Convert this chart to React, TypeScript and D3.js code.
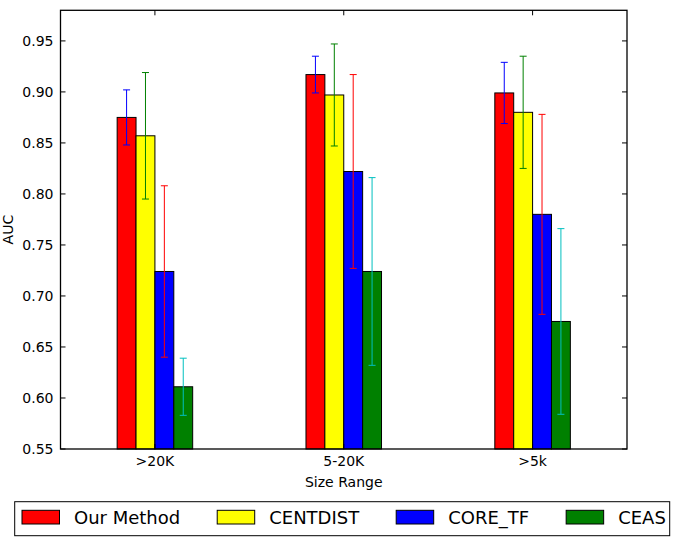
import React from "react";
import * as d3 from "d3";

const categories = [">20K", "5-20K", ">5k"];
const seriesNames = ["Our Method", "CENTDIST", "CORE_TF", "CEAS"];
const ourMethod = [0.875, 0.917, 0.899];
const centdist = [0.857, 0.897, 0.880];
const coreTf = [0.724, 0.822, 0.780];
const ceas = [0.611, 0.724, 0.675];
const ourMethodErr = [0.027, 0.018, 0.030];
const centdistErr = [0.062, 0.050, 0.055];
const coreTfErr = [0.084, 0.095, 0.098];
const ceasErr = [0.028, 0.092, 0.091];
const yTicks = [0.55, 0.6, 0.65, 0.7, 0.75, 0.8, 0.85, 0.9, 0.95];

const seriesValues = [ourMethod, centdist, coreTf, ceas];
const seriesErrs = [ourMethodErr, centdistErr, coreTfErr, ceasErr];
const fills = ["#ff0000", "#ffff00", "#0000ff", "#008000"];
const errColors = ["#0000ff", "#008000", "#ff0000", "#00bfbf"];

const W = 675;
const H = 537;
const left = 60.5;
const right = 627;
const top = 10.3;
const bottom = 449;
const FONT = "DejaVu Sans, sans-serif";

function measure(text: string, size: number): number {
  if (typeof document === "undefined") return text.length * size * 0.6;
  const c = document.createElement("canvas");
  const ctx = c.getContext("2d");
  if (!ctx) return text.length * size * 0.6;
  ctx.font = `${size}px DejaVu Sans`;
  return ctx.measureText(text).width;
}

export default function App() {
  const x = d3.scaleLinear().domain([-0.5, 2.5]).range([left, right]);
  const y = d3.scaleLinear().domain([0.55, 0.98]).range([bottom, top]);
  const barW = 0.1;
  const offsets = [-0.2, -0.1, 0, 0.1];
  const tickLen = 5;

  // legend layout
  const legendItems: { name: string; px: number; tx: number }[] = [];
  let cx = 22;
  seriesNames.forEach((n) => {
    legendItems.push({ name: n, px: cx, tx: cx + 52 });
    cx = cx + 52 + measure(n, 18) + 37;
  });

  return (
    <svg
      width={W}
      height={H}
      style={{ position: "absolute", left: 0, top: 0, background: "#fff" }}
      fontFamily={FONT}
    >
      <rect x={0} y={0} width={W} height={H} fill="#fff" />
      {/* bars */}
      {seriesValues.map((vals, s) =>
        vals.map((v, i) => (
          <rect
            key={`b${s}-${i}`}
            x={x(i + offsets[s])}
            y={y(v)}
            width={x(barW) - x(0)}
            height={y(0.55) - y(v)}
            fill={fills[s]}
            stroke="#000"
            strokeWidth={1}
          />
        ))
      )}
      {/* error bars */}
      {seriesValues.map((vals, s) =>
        vals.map((v, i) => {
          const cxp = x(i + offsets[s] + barW / 2);
          const e = seriesErrs[s][i];
          const y1 = y(v + e);
          const y2 = y(v - e);
          return (
            <g key={`e${s}-${i}`} stroke={errColors[s]} strokeWidth={1}>
              <line x1={cxp} x2={cxp} y1={y1} y2={y2} />
              <line x1={cxp - 3.5} x2={cxp + 3.5} y1={y1} y2={y1} />
              <line x1={cxp - 3.5} x2={cxp + 3.5} y1={y2} y2={y2} />
            </g>
          );
        })
      )}
      {/* y ticks */}
      {yTicks.map((t) => (
        <g key={`yt${t}`}>
          <line x1={left} x2={left + tickLen} y1={y(t)} y2={y(t)} stroke="#000" />
          <line x1={right} x2={right - tickLen} y1={y(t)} y2={y(t)} stroke="#000" />
          <text
            x={left - 7}
            y={y(t)}
            textAnchor="end"
            dominantBaseline="central"
            fontSize={14}
            fill="#000"
          >
            {t.toFixed(2)}
          </text>
        </g>
      ))}
      {/* x ticks */}
      {categories.map((c, i) => (
        <g key={`xt${c}`}>
          <line x1={x(i)} x2={x(i)} y1={bottom} y2={bottom - tickLen} stroke="#000" />
          <line x1={x(i)} x2={x(i)} y1={top} y2={top + tickLen} stroke="#000" />
          <text x={x(i)} y={bottom + 17} textAnchor="middle" fontSize={14} fill="#000">
            {c}
          </text>
        </g>
      ))}
      {/* frame */}
      <rect
        x={left}
        y={top}
        width={right - left}
        height={bottom - top}
        fill="none"
        stroke="#000"
        strokeWidth={1.3}
      />
      {/* axis labels */}
      <text x={(left + right) / 2} y={487} textAnchor="middle" fontSize={14} fill="#000">
        Size Range
      </text>
      <text
        transform={`translate(13, ${(top + bottom) / 2}) rotate(-90)`}
        textAnchor="middle"
        fontSize={14}
        fill="#000"
      >
        AUC
      </text>
      {/* legend */}
      <rect x={14.7} y={501.7} width={655} height={34} fill="#fff" stroke="#000" strokeWidth={1} />
      {legendItems.map((it, s) => (
        <g key={`lg${s}`}>
          <rect x={it.px} y={510.3} width={37.5} height={13.7} fill={fills[s]} stroke="#000" strokeWidth={1} />
          <text x={it.tx} y={523.5} fontSize={18} fill="#000">
            {it.name}
          </text>
        </g>
      ))}
    </svg>
  );
}
